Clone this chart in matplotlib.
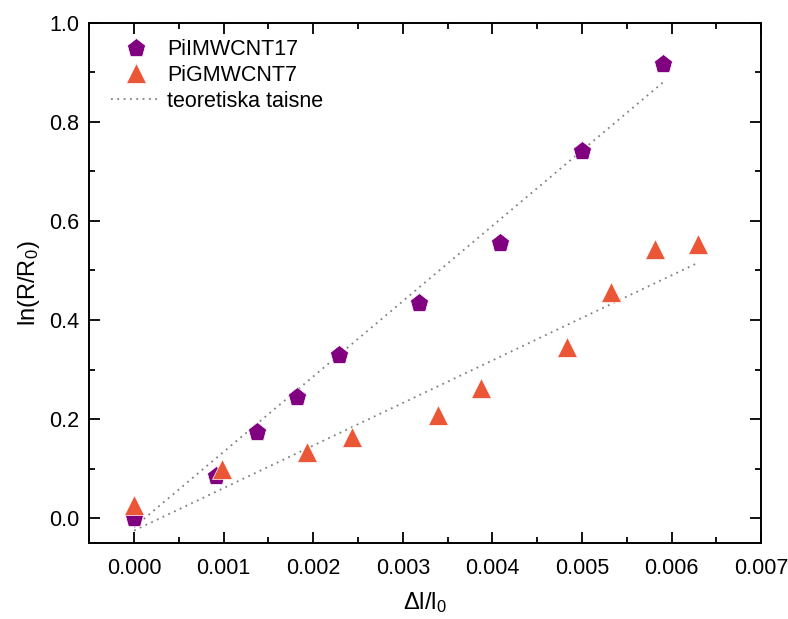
import matplotlib
matplotlib.use("Agg")
import matplotlib.pyplot as plt
from matplotlib.ticker import MultipleLocator

plt.rcParams['font.family'] = ['Liberation Sans', 'DejaVu Sans']
plt.rcParams['mathtext.fontset'] = 'custom'
plt.rcParams['mathtext.rm'] = 'Liberation Sans'
plt.rcParams['mathtext.it'] = 'Liberation Sans'
plt.rcParams['mathtext.default'] = 'regular'

# PiIMWCNT17
strain_17 = [0.0, 0.00091, 0.00137, 0.00182, 0.00229, 0.00318, 0.00408, 0.0050, 0.0059]
lnr_17 = [0.0, 0.085, 0.175, 0.244, 0.329, 0.435, 0.556, 0.742, 0.917]

# PiGMWCNT7
strain_7 = [0.0, 0.00098, 0.00193, 0.00243, 0.00339, 0.00387, 0.00483, 0.00532, 0.00581, 0.0063]
lnr_7 = [0.026, 0.099, 0.133, 0.163, 0.208, 0.262, 0.345, 0.456, 0.544, 0.554]

# teoretiska taisnes (end points)
theory_x_17 = [0.0, 0.0059]
theory_y_17 = [-0.018, 0.879]
theory_x_7 = [0.0, 0.0063]
theory_y_7 = [-0.025, 0.516]

purple = '#800080'
orange = '#EA5636'

fig = plt.figure(figsize=(7.88, 6.19), dpi=100)
ax = fig.add_axes([0.1133, 0.1228, 0.8527, 0.8405])

ax.plot(strain_17, lnr_17, linestyle='none', marker='p', markersize=14,
        color=purple, markeredgecolor='white', markeredgewidth=0.5,
        label='PiIMWCNT17', zorder=3)
ax.plot(strain_7, lnr_7, linestyle='none', marker='^', markersize=14,
        color=orange, markeredgecolor='white', markeredgewidth=0.5,
        label='PiGMWCNT7', zorder=3)
ax.plot(theory_x_17, theory_y_17, color='#808080', linestyle=(0, (1, 2.5)),
        linewidth=1.3, label='teoretiska taisne', zorder=2)
ax.plot(theory_x_7, theory_y_7, color='#808080', linestyle=(0, (1, 2.5)),
        linewidth=1.3, zorder=2)

ax.set_xlim(-0.0005, 0.007)
ax.set_ylim(-0.05, 1.0)
ax.xaxis.set_major_locator(MultipleLocator(0.001))
ax.xaxis.set_minor_locator(MultipleLocator(0.0005))
ax.yaxis.set_major_locator(MultipleLocator(0.2))
ax.yaxis.set_minor_locator(MultipleLocator(0.1))
ax.xaxis.set_major_formatter(plt.FormatStrFormatter('%.3f'))
ax.yaxis.set_major_formatter(plt.FormatStrFormatter('%.1f'))

ax.tick_params(which='both', direction='in', top=True, right=True,
               width=1.3, labelsize=15.5)
ax.tick_params(axis='x', pad=11)
ax.tick_params(axis='y', pad=7)
ax.tick_params(which='major', length=8)
ax.tick_params(which='minor', length=4)
for s in ax.spines.values():
    s.set_linewidth(1.4)

ax.set_xlabel('Δl/l$_0$', fontsize=17, labelpad=8)
ax.set_ylabel('ln(R/R$_0$)', fontsize=17, labelpad=5)

ax.legend(loc='upper left', frameon=False, fontsize=15.5,
          handlelength=2.3, handletextpad=0.3, labelspacing=0.22,
          borderaxespad=0.0, bbox_to_anchor=(0.02, 0.985))

fig.savefig('out.png', dpi=100)
